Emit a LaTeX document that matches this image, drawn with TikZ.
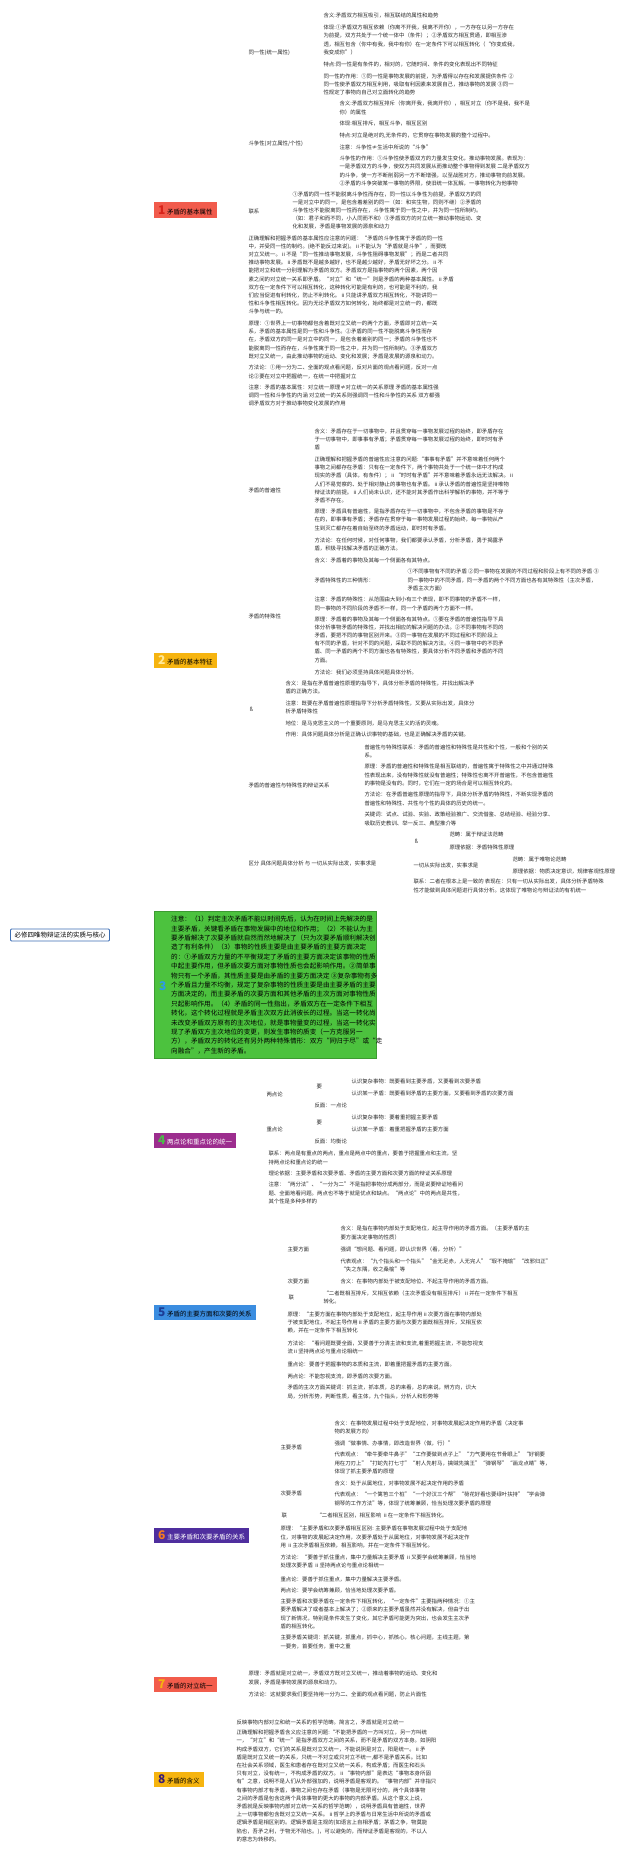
\documentclass[tikz,border=0pt]{standalone}
\usepackage{fontspec}
\setmainfont{Noto Sans CJK SC}
\XeTeXlinebreaklocale "zh"
\XeTeXlinebreakskip=0pt plus 1pt
\definecolor{txt}{HTML}{2B2B2B}
\definecolor{c1}{HTML}{F15B4C}\definecolor{n1}{HTML}{D8231A}\definecolor{l1}{HTML}{F2A093}
\definecolor{c2}{HTML}{F6B40F}\definecolor{n2}{HTML}{FFE99A}\definecolor{l2}{HTML}{F7C95C}
\definecolor{c3}{HTML}{4CC23E}\definecolor{n3}{HTML}{2E9AE6}\definecolor{l3}{HTML}{5DBB4B}
\definecolor{c4}{HTML}{9C2D8E}\definecolor{n4}{HTML}{4DB84A}\definecolor{l4}{HTML}{CF98C4}
\definecolor{c5}{HTML}{3B8DE0}\definecolor{n5}{HTML}{1D3D96}\definecolor{l5}{HTML}{8CB9EA}
\definecolor{c6}{HTML}{4F2E9E}\definecolor{n6}{HTML}{F47C20}\definecolor{l6}{HTML}{9A88CC}
\definecolor{c7}{HTML}{F25C4B}\definecolor{n7}{HTML}{F6B40F}\definecolor{l7}{HTML}{F4A196}
\definecolor{c8}{HTML}{F6B40F}\definecolor{n8}{HTML}{3A1C73}\definecolor{l8}{HTML}{F7C95C}
\definecolor{rootb}{HTML}{3C6EB4}
\pgfdeclarelayer{bg}
\pgfsetlayers{bg,main}
\newcommand\tf{\fontsize{5.4}{8.2}\selectfont}
\newcommand\bnum[2]{{\fontsize{12}{12}\selectfont\bfseries\color{#1}#2}\hspace{1.5pt}}
\newcommand\kids[3]{\foreach \k in {#3}{\draw[lk=#1] (#2.east) .. controls +(10,0) and +(-10,0) .. (\k.west);}}
\tikzset{
  t/.style={anchor=west, inner sep=0pt, outer sep=1.5pt, align=left, font=\tf, text=txt},
  bx/.style={anchor=west, fill=#1, minimum height=15pt, inner xsep=4pt, inner ysep=0pt, font=\fontsize{6.5}{7}\selectfont, text=black},
  root/.style={draw=rootb, fill=white, line width=0.8pt, rounded corners=1pt, inner xsep=4pt, inner ysep=3pt, font=\fontsize{6.5}{7}\selectfont, text=black},
  lk/.style={draw=#1, line width=0.55pt},
  br/.style={draw=#1, line width=1.6pt},
  gbox/.style={anchor=west, fill=c3, draw=c3!80!black, line width=0.4pt, minimum width=222pt, minimum height=147pt, inner sep=0pt},
}
\begin{document}
\begin{tikzpicture}[x=1pt,y=-1pt]
\fill[white] (0,0) rectangle (640,1854);
\useasboundingbox (0,0) rectangle (640,1854);

% ---------- root
\node[root] (R) at (60,935) {必修四唯物辩证法的实质与核心};

% ---------- branch 1
\node[bx=c1] (B1) at (154,210) {\bnum{n1}{1}矛盾的基本属性};
\node[t] (a1) at (247,53) {同一性(统一属性)};
\node[t] (a11) at (322,16) {含义:矛盾双方相互吸引，相互联结的属性和趋势};
\node[t] (a12) at (322,40) {体现:①矛盾双方相互依赖（你离不开我，我离不开你），一方存在以另一方存在\\为前提，双方共处于一个统一体中（条件）；②矛盾双方相互贯通，即相互渗\\透，相互包含（你中有我，我中有你）在一定条件下可以相互转化（“你变成我，\\我变成你”）};
\node[t] (a13) at (322,64) {特点:同一性是有条件的，相对的，它随时间、条件的变化表现出不同特征};
\node[t] (a14) at (322,84.5) {同一性的作用：①同一性是事物发展的前提，为矛盾得以存在和发展提供条件 ②\\同一性使矛盾双方相互利用，吸取有利因素来发展自己，推动事物的发展 ③同一\\性规定了事物向自己对立面转化的趋势};
\node[t] (a2) at (247,144) {斗争性(对立属性/个性)};
\node[t] (a21) at (338,108) {含义:矛盾双方相互排斥（你离开我，我离开你），相互对立（你不是我，我不是\\你）的属性};
\node[t] (a22) at (338,124) {体现:相互排斥，相互斗争，相互区别};
\node[t] (a23) at (338,136) {特点:对立是绝对的,无条件的，它贯穿在事物发展的整个过程中。};
\node[t] (a24) at (338,147) {注意：斗争性≠生活中所说的“斗争”};
\node[t] (a25) at (338,171) {斗争性的作用：①斗争性使矛盾双方的力量发生变化，推动事物发展。表现为：\\一是矛盾双方的斗争，使双方共同发展从而推动整个事物得到发展 二是矛盾双方\\的斗争，使一方不断削弱另一方不断增强，以至战胜对方，推动事物向前发展。\\②矛盾的斗争突破某一事物的界限，使旧统一体瓦解，一事物转化为他事物};
\node[t] (a3) at (247,211) {联系};
\node[t] (a31) at (291,210.5) {①矛盾的同一性不能脱离斗争性而存在，同一性以斗争性为前提，矛盾双方的同\\一是对立中的同一，是包含着差别的同一（如：和实生物，同则不继）②矛盾的\\斗争性也不能脱离同一性而存在，斗争性寓于同一性之中，并为同一性所制约。\\（如：君子和而不同，小人同而不和）③矛盾双方的对立统一推动事物运动、变\\化和发展，矛盾是事物发展的源泉和动力};
\node[t] (a4) at (247,275) {正确理解和把握矛盾的基本属性应注意的问题：“矛盾的斗争性寓于矛盾的同一性\\中，并受同一性的制约。(绝不能反过来说)。ⅱ不能认为“矛盾就是斗争”，而要既\\对立又统一。ⅱ不是“同一性推动事物发展，斗争性阻碍事物发展”；而是二者共同\\推动事物发展。ⅱ矛盾既不是越多越好，也不是越少越好，矛盾无好坏之分。ⅱ不\\能把对立和统一分别理解为矛盾的双方。矛盾双方是指事物的两个因素，两个因\\素之间的对立统一关系即矛盾。“对立”和“统一”则是矛盾的两种基本属性。ⅱ矛盾\\双方在一定条件下可以相互转化，这种转化可能是有利的，也可能是不利的，我\\们应当促进有利转化，防止不利转化。ⅱ只能讲矛盾双方相互转化，不能讲同一\\性和斗争性相互转化。因为无论矛盾双方如何转化，始终都是对立统一的，都既\\斗争与统一的。};
\node[t] (a5) at (247,340) {原理：①世界上一切事物都包含着既对立又统一的两个方面，矛盾即对立统一关\\系，矛盾的基本属性是同一性和斗争性。②矛盾的同一性不能脱离斗争性而存\\在，矛盾双方的同一是对立中的同一，是包含着差别的同一；矛盾的斗争性也不\\能脱离同一性而存在，斗争性寓于同一性之中，并为同一性所制约。③矛盾双方\\既对立又统一，由此推动事物的运动、变化和发展；矛盾是发展的源泉和动力。};
\node[t] (a6) at (247,372) {方法论：①用一分为二、全面的观点看问题，反对片面的观点看问题，反对一点\\论②要在对立中把握统一，在统一中把握对立};
\node[t] (a7) at (247,395.5) {注意：矛盾的基本属性：对立统一原理≠对立统一的关系原理 矛盾的基本属性强\\调同一性和斗争性的内涵 对立统一的关系则强调同一性和斗争性的关系 双方都强\\调矛盾双方对于推动事物变化发展的作用};

% ---------- branch 2
\node[bx=c2] (B2) at (154,660) {\bnum{n2}{2}矛盾的基本特征};
\node[t] (b1) at (247,490) {矛盾的普遍性};
\node[t] (b11) at (313,439.5) {含义：矛盾存在于一切事物中，并且贯穿每一事物发展过程的始终，即矛盾存在\\于一切事物中，即事事有矛盾；矛盾贯穿每一事物发展过程的始终，即时时有矛\\盾};
\node[t] (b12) at (313,480) {正确理解和把握矛盾的普遍性应注意的问题:“事事有矛盾”并不意味着任何两个\\事物之间都存在矛盾：只有在一定条件下，两个事物共处于一个统一体中才构成\\现实的矛盾（具体，有条件）；ⅱ“时时有矛盾”并不意味着矛盾永远无法解决。ⅱ\\人们不易觉察的、处于相对静止的事物也有矛盾。ⅱ承认矛盾的普遍性是坚持唯物\\辩证法的前提。ⅱ人们尚未认识，还不能对其矛盾作出科学解析的事物，并不等于\\矛盾不存在。};
\node[t] (b13) at (313,520) {原理：矛盾具有普遍性，是指矛盾存在于一切事物中，不包含矛盾的事物是不存\\在的，即事事有矛盾；矛盾存在贯穿于每一事物发展过程的始终，每一事物从产\\生到灭亡都存在着自始至终的矛盾运动，即时时有矛盾。};
\node[t] (b14) at (313,544.5) {方法论：在任何时候，对任何事物，我们都要承认矛盾，分析矛盾，勇于揭露矛\\盾，积极寻找解决矛盾的正确方法。};
\node[t] (b2) at (247,616) {矛盾的特殊性};
\node[t] (b21) at (313,560) {含义：矛盾着的事物及其每一个侧面各有其特点。};
\node[t] (b22) at (313,580) {矛盾特殊性的三种情形：};
\node[t] (b221) at (406,580) {①不同事物有不同的矛盾 ②同一事物在发展的不同过程和阶段上有不同的矛盾 ③\\同一事物中的不同矛盾，同一矛盾的两个不同方面也各有其特殊性（主次矛盾，\\矛盾主次方面）};
\node[t] (b23) at (313,604) {注意：矛盾的特殊性：从范围由大到小有三个表现，即不同事物的矛盾不一样，\\同一事物的不同阶段的矛盾不一样，同一个矛盾的两个方面不一样。};
\node[t] (b24) at (313,639.5) {原理：矛盾着的事物及其每一个侧面各有其特点。①要在矛盾的普遍性指导下具\\体分析事物矛盾的特殊性，并找出相应的解决问题的办法。②不同事物有不同的\\矛盾，要把不同的事物区别开来。③同一事物在发展的不同过程和不同阶段上\\有不同的矛盾，针对不同的问题，采取不同的解决方法。④同一事物中的不同矛\\盾、同一矛盾的两个不同方面也各有特殊性，要具体分析不同矛盾和矛盾的不同\\方面。};
\node[t] (b25) at (313,672) {方法论：我们必须坚持具体问题具体分析。};
\node[t] (b3) at (248,709) {ß};
\node[t] (b31) at (284,687.5) {含义：是指在矛盾普遍性原理的指导下，具体分析矛盾的特殊性，并找出解决矛\\盾的正确方法。};
\node[t] (b32) at (284,707.5) {注意：既要在矛盾普遍性原理指导下分析矛盾特殊性，又要从实际出发，具体分\\析矛盾特殊性};
\node[t] (b33) at (284,723) {地位：是马克思主义的一个重要原则，是马克思主义的活的灵魂。};
\node[t] (b34) at (284,735) {作用：具体问题具体分析是正确认识事物的基础，也是正确解决矛盾的关键。};
\node[t] (b4) at (247,785) {矛盾的普遍性与特殊性的辩证关系};
\node[t] (b41) at (363,751) {普遍性与特殊性联系：矛盾的普遍性和特殊性是共性和个性，一般和个别的关\\系。};
\node[t] (b42) at (363,775) {原理：矛盾的普遍性和特殊性是相互联结的，普遍性寓于特殊性之中并通过特殊\\性表现出来，没有特殊性就没有普遍性；特殊性也离不开普遍性，不包含普遍性\\的事物是没有的。同时，它们在一定的场合是可以相互转化的。};
\node[t] (b43) at (363,799) {方法论：在矛盾普遍性原理的指导下，具体分析矛盾的特殊性，不断实现矛盾的\\普遍性和特殊性、共性与个性的具体的历史的统一。};
\node[t] (b44) at (363,819) {关键词：试点、试验、实验、政策经验推广、交流借鉴、总结经验、经验分享、\\吸取历史教训、举一反三、典型推介等};
\node[t] (b5) at (247,863) {区分 具体问题具体分析 与 一切从实际出发，实事求是};
\node[t] (b51) at (413,841) {ß};
\node[t] (b511) at (448,834) {范畴：属于辩证法范畴};
\node[t] (b512) at (448,847) {原理依据：矛盾特殊性原理};
\node[t] (b52) at (412,865) {一切从实际出发，实事求是};
\node[t] (b521) at (511,859) {范畴：属于唯物论范畴};
\node[t] (b522) at (511,871) {原理依据：物质决定意识，规律客观性原理};
\node[t] (b53) at (412,886) {联系：二者在根本上是一致的 表现在：只有一切从实际出发，具体分析矛盾特殊\\性才能做到具体问题进行具体分析。这体现了唯物论与辩证法的有机统一};

% ---------- branch 3 (green note)
\node[gbox] (B3) at (154,985) {};
\node[anchor=west, inner sep=0pt, font=\fontsize{12}{12}\selectfont\bfseries, text=n3] (B3n) at (159,986) {3};
\node[anchor=west, inner sep=0pt, align=left, font=\fontsize{6.6}{9.4}\selectfont, text=black] (B3t) at (171,985) {注意：（1）判定主次矛盾不能以时间先后，认为在时间上先解决的是\\主要矛盾，关键看矛盾在事物发展中的地位和作用；（2）不能认为主\\要矛盾解决了次要矛盾就自然而然地解决了（只为次要矛盾顺利解决创\\造了有利条件）（3）事物的性质主要是由主要矛盾的主要方面决定\\的：①矛盾双方力量的不平衡规定了矛盾的主要方面决定该事物的性质\\中起主要作用，但矛盾次要方面对事物性质也会起影响作用。②简单事\\物只有一个矛盾，其性质主要是由矛盾的主要方面决定 ③复杂事物有多\\个矛盾且力量不均衡，规定了复杂事物的性质主要是由主要矛盾的主要\\方面决定的，而主要矛盾的次要方面和其他矛盾的主次方面对事物性质\\只起影响作用。（4）矛盾的同一性指出，矛盾双方在一定条件下相互\\转化，这个转化过程就是矛盾主次双方此消彼长的过程。当这一转化尚\\未改变矛盾双方原有的主次地位，就是事物量变的过程，当这一转化实\\现了矛盾双方主次地位的变更，则发生事物的质变（一方克服另一\\方），矛盾双方的转化还有另外两种特殊情形：双方“同归于尽”或“走\\向融合”，产生新的矛盾。};

% ---------- branch 4
\node[bx=c4, text=white] (B4) at (154,1140) {\bnum{n4}{4}两点论和重点论的统一};
\node[t] (c1) at (265,1094) {两点论};
\node[t] (c11) at (315,1087) {要};
\node[t] (c111) at (350,1082) {认识复杂事物：既要看到主要矛盾，又要看到次要矛盾};
\node[t] (c112) at (350,1093) {认识某一矛盾：既要看到矛盾的主要方面，又要看到矛盾的次要方面};
\node[t] (c12) at (313,1105) {反面：一点论};
\node[t] (c2) at (265,1129) {重点论};
\node[t] (c21) at (315,1123) {要};
\node[t] (c211) at (350,1117) {认识复杂事物：要着重把握主要矛盾};
\node[t] (c212) at (350,1129) {认识某一矛盾：着重把握矛盾的主要方面};
\node[t] (c22) at (313,1141) {反面：均衡论};
\node[t] (c3) at (267,1158) {联系：两点是有重点的两点，重点是两点中的重点，要善于把握重点和主流，坚\\持两点论和重点论的统一};
\node[t] (c4) at (267,1173) {理论依据：主要矛盾和次要矛盾、矛盾的主要方面和次要方面的辩证关系原理};
\node[t] (c5) at (267,1193) {注意：“两分法”、“一分为二”不是指把事物分成两部分，而是说要辩证地看问\\题、全面地看问题。两点也不等于就是优点和缺点。“两点论”中的两点是共性，\\其个性是多种多样的};

% ---------- branch 5
\node[bx=c5] (B5) at (154,1312) {\bnum{n5}{5}矛盾的主要方面和次要的关系};
\node[t] (d1) at (286,1249) {主要方面};
\node[t] (d11) at (339,1233) {含义：是指在事物内部处于支配地位，起主导作用的矛盾方面。（主要矛盾的主\\要方面决定事物的性质）};
\node[t] (d12) at (339,1249) {强调“想问题、看问题，即认识世界（看，分析）”};
\node[t] (d13) at (339,1265.5) {代表观点：“九个指头和一个指头”“金无足赤，人无完人”“瑕不掩瑜”“改邪归正”\\“失之东隅，收之桑榆”等};
\node[t] (d2) at (286,1281) {次要方面};
\node[t] (d21) at (339,1281) {含义：在事物内部处于被支配地位、不起主导作用的矛盾方面。};
\node[t] (d3) at (287,1297) {联};
\node[t] (d31) at (322,1297) {“二者既相互排斥，又相互依赖（主次矛盾没有相互排斥）ⅱ并在一定条件下相互\\转化。};
\node[t] (d4) at (286,1322.5) {原理：“主要方面在事物内部处于支配地位，起主导作用ⅱ次要方面在事物内部处\\于被支配地位，不起主导作用ⅱ矛盾的主要方面与次要方面既相互排斥，又相互依\\赖，并在一定条件下相互转化};
\node[t] (d5) at (286,1347.5) {方法论：“看问题既要全面，又要善于分清主流和支流,着重把握主流，不能忽视支\\流ⅱ坚持两点论与重点论相统一};
\node[t] (d6) at (286,1364) {重点论：要善于把握事物的本质和主流，即着重把握矛盾的主要方面。};
\node[t] (d7) at (286,1376) {两点论：不能忽视支流，即矛盾的次要方面。};
\node[t] (d8) at (286,1392) {矛盾的主次方面关键词：抓主流，抓本质，总的来看，总的来说，辨方向，识大\\局，分析形势，判断性质，看主体，九个指头，分析人和形势等};

% ---------- branch 6
\node[bx=c6, text=white] (B6) at (154,1535) {\bnum{n6}{6}主要矛盾和次要矛盾的关系};
\node[t] (e1) at (279,1447) {主要矛盾};
\node[t] (e11) at (333,1427.5) {含义：在事物发展过程中处于支配地位，对事物发展起决定作用的矛盾（决定事\\物的发展方向）};
\node[t] (e12) at (333,1443) {强调“做事情、办事情，即改造世界（做，行）”};
\node[t] (e13) at (333,1463) {代表观点：“牵牛要牵牛鼻子”“工作要做到点子上”“力气要用在节骨眼上”“好钢要\\用在刀刃上”“打蛇先打七寸”“射人先射马，擒贼先擒王”“弹钢琴”“画龙点睛”等，\\体现了抓主要矛盾的原理};
\node[t] (e2) at (279,1493) {次要矛盾};
\node[t] (e21) at (333,1483) {含义：处于从属地位，对事物发展不起决定作用的矛盾};
\node[t] (e22) at (333,1499) {代表观点：“一个篱笆三个桩”“一个好汉三个帮”“荷花好看也要绿叶扶持”“学会弹\\钢琴的工作方法”等，体现了统筹兼顾，恰当处理次要矛盾的原理};
\node[t] (e3) at (280,1515) {联};
\node[t] (e31) at (315,1515) {“二者相互区别，相互影响 ⅱ在一定条件下相互转化。};
\node[t] (e4) at (279,1537) {原理：“主要矛盾和次要矛盾相互区别: 主要矛盾在事物发展过程中处于支配地\\位，对事物的发展起决定作用，次要矛盾处于从属地位，对事物发展不起决定作\\用 ⅱ主次矛盾相互依赖，相互影响，并在一定条件下相互转化。};
\node[t] (e5) at (279,1561.5) {方法论：“要善于抓住重点，集中力量解决主要矛盾 ⅱ又要学会统筹兼顾，恰当地\\处理次要矛盾 ⅱ坚持两点论与重点论相统一};
\node[t] (e6) at (279,1579) {重点论：要善于抓住重点，集中力量解决主要矛盾。};
\node[t] (e7) at (279,1590) {两点论：要学会统筹兼顾，恰当地处理次要矛盾。};
\node[t] (e8) at (279,1614) {主要矛盾和次要矛盾在一定条件下相互转化，“一定条件”主要指两种情况：①主\\要矛盾解决了或者基本上解决了；②原来的主要矛盾虽然并没有解决，但由于出\\现了新情况，特别是条件发生了变化，其它矛盾可能更为突出，也会发生主次矛\\盾的相互转化。};
\node[t] (e9) at (279,1642) {主要矛盾关键词：抓关键，抓重点，抓中心，抓核心，核心问题，主线主题，第\\一要务，首要任务，重中之重};

% ---------- branch 7
\node[bx=c7] (B7) at (154,1684) {\bnum{n7}{7}矛盾的对立统一};
\node[t] (f1) at (247,1678) {原理：矛盾就是对立统一，矛盾双方既对立又统一，推动着事物的运动、变化和\\发展，矛盾是事物发展的源泉和动力。};
\node[t] (f2) at (247,1694) {方法论：这就要求我们要坚持用一分为二、全面的观点看问题，防止片面性};

% ---------- branch 8
\node[bx=c8] (B8) at (154,1779) {\bnum{n8}{8}矛盾的含义};
\node[t] (g1) at (235,1722) {反映事物内部对立和统一关系的哲学范畴。简言之，矛盾就是对立统一};
\node[t] (g2) at (235,1786) {正确理解和把握矛盾含义应注意的问题:“不能把矛盾的一方叫对立，另一方叫统\\一，“对立”和“统一”是指矛盾双方之间的关系，而不是矛盾的双方本身。如阴阳\\构成矛盾双方，它们的关系是既对立又统一，不能说阴是对立，阳是统一。ⅱ矛\\盾是既对立又统一的关系，只统一不对立或只对立不统一,都不是矛盾关系。比如\\在社会关系领域，医生和患者存在既对立又统一关系，构成矛盾；而医生和石头\\只有对立，没有统一，不构成矛盾的双方。ⅱ“事物内部”是表达“事物本身所固\\有”之意，说明不是人们从外部强加的，说明矛盾是客观的。“事物内部”并非指只\\有事物内部才有矛盾，事物之间也存在矛盾（事物是无限可分的，两个具体事物\\之间的矛盾是包含这两个具体事物的更大的事物的内部矛盾。从这个意义上说，\\矛盾就是反映事物内部对立统一关系的哲学范畴），说明矛盾具有普遍性，世界\\上一切事物都包含既对立又统一关系。ⅱ哲学上的矛盾与日常生活中所说的矛盾或\\逻辑矛盾是相区别的。逻辑矛盾是主观的(如语言上自相矛盾；茅盾之争，物莫能\\陷也，吾矛之利，于物无不陷也。)，可以避免的，而辩证矛盾是客观的，不以人\\的意志为转移的。};

% ---------- connectors
\begin{pgfonlayer}{bg}
\draw[br=c1] (R.center) .. controls (15,600) and (124,266) .. (B1.west);
\draw[br=c2, line width=2.4pt] (R.center) .. controls (30,830) and (109,695) .. (B2.west);
\draw[br=l3] (R.center) .. controls (80,960) and (115,985) .. (B3.west);
\draw[br=c4] (R.center) .. controls (90,990) and (130,1090) .. (B4.west);
\draw[br=c5] (R.center) .. controls (68,1100) and (125,1280) .. (B5.west);
\draw[br=c6] (R.center) .. controls (70,1200) and (130,1490) .. (B6.west);
\draw[br=c7] (R.center) .. controls (65,1300) and (138,1640) .. (B7.west);
\draw[br=c8, line width=2.4pt] (R.center) .. controls (69,1357) and (127,1690) .. (B8.west);

\kids{l1}{B1}{a1,a2,a3,a4,a5,a6,a7}
\kids{l1}{a1}{a11,a12,a13,a14}
\kids{l1}{a2}{a21,a22,a23,a24,a25}
\kids{l1}{a3}{a31}
\kids{l2}{B2}{b1,b2,b3,b4,b5}
\kids{l2}{b1}{b11,b12,b13,b14}
\kids{l2}{b2}{b21,b22,b23,b24,b25}
\kids{l2}{b22}{b221}
\kids{l2}{b3}{b31,b32,b33,b34}
\kids{l2}{b4}{b41,b42,b43,b44}
\kids{l2}{b5}{b51,b52,b53}
\kids{l2}{b51}{b511,b512}
\kids{l2}{b52}{b521,b522}
\kids{l4}{B4}{c1,c2,c3,c4,c5}
\kids{l4}{c1}{c11,c12}
\kids{l4}{c11}{c111,c112}
\kids{l4}{c2}{c21,c22}
\kids{l4}{c21}{c211,c212}
\kids{l5}{B5}{d1,d2,d3,d4,d5,d6,d7,d8}
\kids{l5}{d1}{d11,d12,d13}
\kids{l5}{d2}{d21}
\kids{l5}{d3}{d31}
\kids{l6}{B6}{e1,e2,e3,e4,e5,e6,e7,e8,e9}
\kids{l6}{e1}{e11,e12,e13}
\kids{l6}{e2}{e21,e22}
\kids{l6}{e3}{e31}
\kids{l7}{B7}{f1,f2}
\kids{l8}{B8}{g1,g2}
\end{pgfonlayer}
\end{tikzpicture}
\end{document}
